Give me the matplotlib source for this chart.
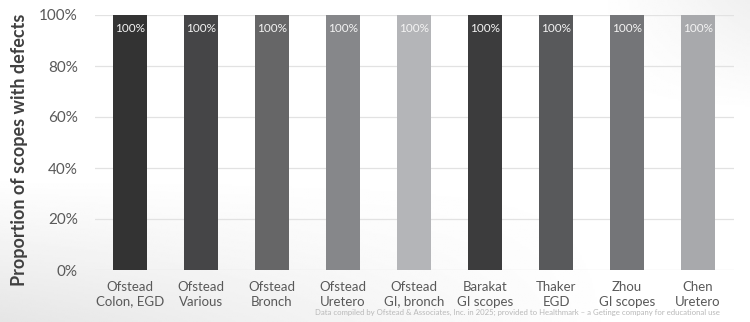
import matplotlib
matplotlib.use("Agg")
import matplotlib.pyplot as plt
import numpy as np

categories = ["Ofstead\nColon, EGD", "Ofstead\nVarious", "Ofstead\nBronch", "Ofstead\nUretero",
              "Ofstead\nGI, bronch", "Barakat\nGI scopes", "Thaker\nEGD", "Zhou\nGI scopes", "Chen\nUretero"]
values = [100, 100, 100, 100, 100, 100, 100, 100, 100]
bar_colors = ["#333333", "#454547", "#666667", "#86878a", "#b4b5b8", "#3c3c3d", "#58595b", "#747578", "#a8a9ac"]
yticks = [0, 20, 40, 60, 80, 100]

plt.rcParams['font.family'] = ['Lato', 'DejaVu Sans']

fig = plt.figure(figsize=(7.5, 3.22), dpi=100)
# subtle background gradient
bg = fig.add_axes([0, 0, 1, 1], zorder=-10)
yy, xx = np.mgrid[0:1:200j, 0:1:400j]
shade = np.clip(1 - (xx * 1.2), 0, 1) * np.clip((yy - 0.55) / 0.45, 0, 1)
shade2 = np.clip((xx - 0.8) / 0.2, 0, 1) * np.clip((0.35 - yy) / 0.35, 0, 1)
img = 1 - 0.10 * shade - 0.06 * shade2
bg.imshow(img, cmap='gray', vmin=0, vmax=1, extent=[0, 1, 0, 1], aspect='auto', origin='upper')
bg.axis('off')

ax = fig.add_axes([94.5 / 750, 1 - 270 / 322, 639 / 750, 255 / 322])
ax.patch.set_alpha(0)
x = np.arange(len(categories))
bars = ax.bar(x, values, width=0.49, color=bar_colors, zorder=3)
for xi, v in zip(x, values):
    ax.text(xi, v - 3, f"{v}%", ha='center', va='top', color='#f4f4f4', fontsize=8.5, zorder=4)

ax.set_xlim(-0.5, len(categories) - 0.5)
ax.set_ylim(0, 100)
ax.set_yticks(yticks)
ax.set_yticklabels([f"{t}%" for t in yticks], color='#595959', fontsize=11)
ax.set_xticks(x)
ax.set_xticklabels(categories, color='#595959', fontsize=9.5, linespacing=1.25)
ax.tick_params(axis='both', length=0)
ax.tick_params(axis='y', pad=12)
ax.tick_params(axis='x', pad=8)
ax.yaxis.grid(True, color='#e2e2e2', linewidth=0.9, zorder=0)
for s in ax.spines.values():
    s.set_visible(False)
ax.set_ylabel("Proportion of scopes with defects", fontsize=13, fontweight='bold', color='#404040')
ax.yaxis.set_label_coords(-0.104, 0.47)

fig.text(0.96, 0.02, "Data compiled by Ofstead & Associates, Inc. in 2025; provided to Healthmark \u2013 a Getinge company for educational use",
         ha='right', va='bottom', fontsize=5.6, color='#b8b8b8')

fig.savefig("out.png", dpi=100)
